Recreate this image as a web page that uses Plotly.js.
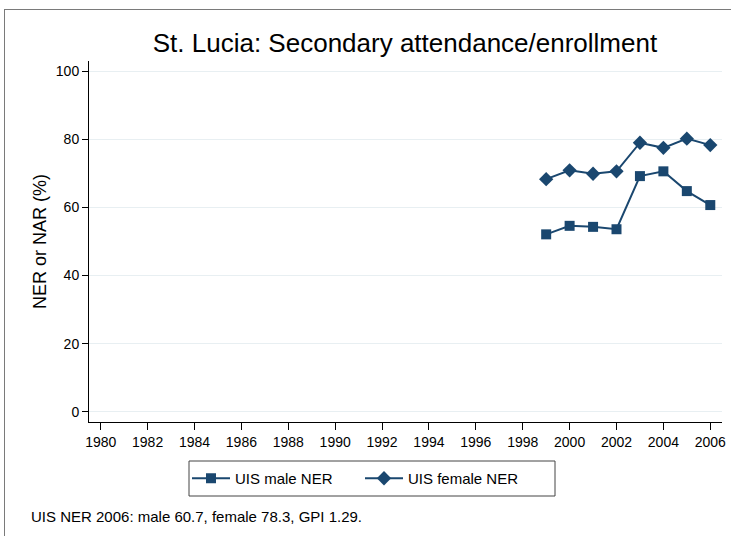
<!DOCTYPE html>
<html>
<head>
<meta charset="utf-8">
<script src="https://cdn.plot.ly/plotly-3.0.1.min.js"></script>
<style>
  html, body { margin: 0; padding: 0; background: #fff; }
  #wrap { position: relative; width: 731px; height: 536px; overflow: hidden; }
  #frame { position: absolute; left: 4px; top: 9px; width: 800px; height: 600px; border: 1px solid #7a7a7a; box-sizing: border-box; }
  #chart { position: absolute; left: 0; top: 0; width: 731px; height: 536px; }
</style>
</head>
<body>
<div id="wrap">
  <div id="frame"></div>
  <div id="chart"></div>
</div>
<script>
const years = [1999, 2000, 2001, 2002, 2003, 2004, 2005, 2006];
const maleNER = [52.1, 54.6, 54.3, 53.6, 69.2, 70.6, 64.8, 60.7];
const femaleNER = [68.3, 70.9, 69.9, 70.6, 79.0, 77.5, 80.2, 78.3];
const xTicks = [1980, 1982, 1984, 1986, 1988, 1990, 1992, 1994, 1996, 1998, 2000, 2002, 2004, 2006];
const yTicks = [0, 20, 40, 60, 80, 100];
const seriesNames = ["UIS male NER", "UIS female NER"];
const titleText = "St. Lucia: Secondary attendance/enrollment";
const yTitle = "NER or NAR (%)";
const note = "UIS NER 2006: male 60.7, female 78.3, GPI 1.29.";

const navy = "#1a476f";
const font = "Liberation Sans, Arial, sans-serif";

// pixel -> paper helpers (plot area: x 89..722, y 61..422)
const px = v => (v - 89) / 633;
const py = v => (422 - v) / 361;

const traces = [
  { x: years, y: maleNER, name: seriesNames[0], type: "scatter", mode: "lines+markers",
    line: { color: navy, width: 2 }, marker: { symbol: "square", size: 10, color: navy } },
  { x: years, y: femaleNER, name: seriesNames[1], type: "scatter", mode: "lines+markers",
    line: { color: navy, width: 2 }, marker: { symbol: "diamond", size: 11, color: navy } }
];

const layout = {
  width: 731, height: 536,
  margin: { l: 89, r: 9, t: 61, b: 114 },
  paper_bgcolor: "rgba(0,0,0,0)", plot_bgcolor: "#fff",
  font: { family: font, color: "#000", size: 14 },
  title: { text: titleText, font: { family: font, size: 26, color: "#000" },
           x: 0.554, xanchor: "center", y: 1 - 43 / 536, yanchor: "middle" },
  xaxis: { range: [1979.5, 2006.5], tickmode: "array", tickvals: xTicks, ticktext: xTicks.map(String),
           showgrid: false, zeroline: false, showline: true, linecolor: "#000", linewidth: 1,
           ticks: "outside", ticklen: 7, tickcolor: "#000", tickfont: { size: 14, family: font } },
  yaxis: { range: [-3, 103], tickmode: "array", tickvals: yTicks, ticktext: yTicks.map(String),
           showgrid: true, gridcolor: "#e8eff2", gridwidth: 1, zeroline: false,
           showline: true, linecolor: "#000", linewidth: 1,
           ticks: "outside", ticklen: 6, tickcolor: "#000", tickfont: { size: 14, family: font },
           title: { text: yTitle, font: { size: 18, family: font }, standoff: 4 } },
  showlegend: true,
  legend: { orientation: "h", x: px(187), xanchor: "left", y: py(462), yanchor: "top",
            borderwidth: 0, bgcolor: "rgba(0,0,0,0)",
            font: { size: 15, family: font }, itemwidth: 38, entrywidth: 120, entrywidthmode: "pixels" },
  shapes: [
    { type: "rect", xref: "paper", yref: "paper", x0: px(189), x1: px(555), y0: py(461), y1: py(496),
      line: { color: "#444", width: 1 }, fillcolor: "rgba(0,0,0,0)" }
  ],
  annotations: [
    { text: note, xref: "paper", yref: "paper", x: px(29), y: py(516),
      xanchor: "left", yanchor: "middle", showarrow: false, font: { size: 15, family: font } }
  ]
};

Plotly.newPlot("chart", traces, layout, { displayModeBar: false, staticPlot: true });
</script>
</body>
</html>
